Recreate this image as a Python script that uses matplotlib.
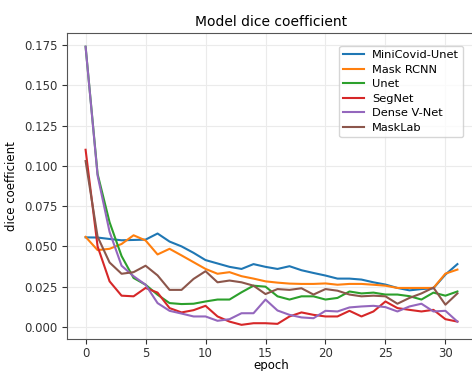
import matplotlib
matplotlib.use("Agg")
import matplotlib.pyplot as plt

epochs = list(range(32))

minicovid = [0.0556, 0.0555, 0.0546, 0.0538, 0.054, 0.0542, 0.058, 0.053, 0.050, 0.046,
             0.0415, 0.0394, 0.0373, 0.036, 0.039, 0.0373, 0.036, 0.0377, 0.0352, 0.0335,
             0.0319, 0.030, 0.030, 0.0294, 0.0277, 0.0263, 0.0242, 0.0227, 0.0235, 0.024,
             0.0325, 0.039]
mask_rcnn = [0.0559, 0.0477, 0.0485, 0.0515, 0.0569, 0.0537, 0.045, 0.0485, 0.0444, 0.0402,
             0.036, 0.033, 0.034, 0.0315, 0.030, 0.0283, 0.0275, 0.0269, 0.0267, 0.0267,
             0.027, 0.0262, 0.0267, 0.0267, 0.0262, 0.0256, 0.0242, 0.0242, 0.0242, 0.0242,
             0.0331, 0.0356]
unet = [0.174, 0.095, 0.065, 0.044, 0.0304, 0.0262, 0.020, 0.0148, 0.0142, 0.0144,
        0.0158, 0.017, 0.017, 0.0215, 0.0256, 0.025, 0.019, 0.017, 0.019, 0.019,
        0.017, 0.018, 0.022, 0.0208, 0.0213, 0.0201, 0.0201, 0.0191, 0.017, 0.0213,
        0.0194, 0.022]
segnet = [0.110, 0.050, 0.0283, 0.0194, 0.019, 0.0242, 0.0213, 0.0117, 0.009, 0.0104,
          0.0131, 0.0065, 0.0033, 0.0013, 0.0023, 0.0023, 0.0019, 0.0065, 0.009, 0.0075,
          0.0065, 0.0065, 0.010, 0.0065, 0.0096, 0.0158, 0.0117, 0.0106, 0.0096, 0.0106,
          0.0048, 0.0033]
dense_vnet = [0.174, 0.094, 0.059, 0.038, 0.0315, 0.0262, 0.0148, 0.010, 0.0083, 0.0065,
              0.0065, 0.0038, 0.0048, 0.0085, 0.0085, 0.017, 0.0102, 0.0075, 0.0059, 0.0054,
              0.010, 0.0096, 0.0121, 0.0127, 0.0131, 0.0123, 0.0096, 0.0127, 0.0144, 0.0096,
              0.010, 0.0033]
masklab = [0.103, 0.056, 0.040, 0.033, 0.034, 0.038, 0.032, 0.023, 0.023, 0.0298,
           0.0346, 0.0277, 0.0288, 0.0277, 0.0256, 0.0204, 0.0235, 0.023, 0.024, 0.0201,
           0.0235, 0.0225, 0.0201, 0.019, 0.0194, 0.019, 0.0144, 0.018, 0.0208, 0.0244,
           0.0138, 0.0208]

series = [("MiniCovid-Unet", minicovid, "#1f77b4"),
          ("Mask RCNN", mask_rcnn, "#ff7f0e"),
          ("Unet", unet, "#2ca02c"),
          ("SegNet", segnet, "#d62728"),
          ("Dense V-Net", dense_vnet, "#9467bd"),
          ("MaskLab", masklab, "#8c564b")]

fig = plt.figure(figsize=(4.72, 3.71), dpi=100)
ax = fig.add_axes([67/472, 32/371, 409/472, 306/371])
for name, vals, col in series:
    ax.plot(epochs, vals, color=col, lw=1.5, label=name)

ax.set_xlim(-1.55, 32.55)
ax.set_ylim(-0.0075, 0.1825)
ax.set_xticks([0, 5, 10, 15, 20, 25, 30])
ax.set_yticks([0.0, 0.025, 0.05, 0.075, 0.1, 0.125, 0.15, 0.175])
ax.set_yticklabels(["0.000", "0.025", "0.050", "0.075", "0.100", "0.125", "0.150", "0.175"])
ax.grid(True, color="#ebebeb", lw=0.8)
ax.tick_params(labelsize=8.5, colors="#333333")
ax.tick_params(axis="x", pad=2.5)
for s in ax.spines.values():
    s.set_color("#555555")
ax.set_title("Model dice coefficient", fontsize=10, pad=5)
ax.set_xlabel("epoch", fontsize=8.5, labelpad=-1)
ax.set_ylabel("dice coefficient", fontsize=8.5)
ax.legend(loc="upper right", fontsize=8.2, bbox_to_anchor=(0.982, 0.976),
          handlelength=1.8, handletextpad=0.7, borderpad=0.35, labelspacing=0.4)

fig.savefig("out.png", dpi=100)
